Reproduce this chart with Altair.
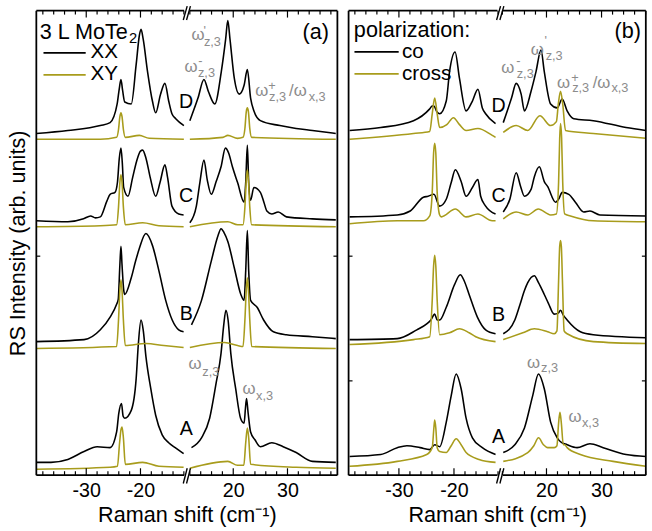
import altair as alt
import pandas as pd

FONT = "Liberation Sans"
OLIVE = "#a89c1c"
GRAY = "#8c8c8c"

# ---------------------------------------------------------------------------
# Spectra: (Raman shift in cm^-1, intensity above the trace offset, arb. units)
# Panel (a): 3 L MoTe2, XX (parallel) and XY (crossed) configurations
# ---------------------------------------------------------------------------
a_A_xx = [(-39.2, 0.07), (-36.5, 0.07), (-33.4, 0.10), (-30.4, 0.18), (-28.0, 0.23), (-25.6, 0.22),
          (-24.4, 0.38), (-24.0, 0.57), (-23.5, 0.67), (-23.2, 0.54), (-22.9, 0.52), (-21.7, 0.60),
          (-20.8, 0.92), (-20.4, 1.27), (-19.9, 1.52), (-19.5, 1.42), (-19.0, 1.15), (-18.1, 0.82),
          (-17.2, 0.55), (-16.0, 0.35), (-14.8, 0.27), (-13.6, 0.22), (-12.05, 0.16),
          (12.3, 0.22), (14.15, 0.32), (15.65, 0.52), (16.85, 0.88), (17.75, 1.18), (18.25, 1.47),
          (18.65, 1.62), (19.05, 1.52), (19.55, 1.18), (20.45, 0.82), (21.35, 0.52), (22.0, 0.47),
          (22.25, 0.62), (22.45, 0.72), (22.75, 0.57), (23.2, 0.38), (24.0, 0.30), (25.0, 0.23),
          (27.1, 0.27), (29.2, 0.23), (31.6, 0.17), (34.6, 0.08), (38.9, 0.07)]
a_A_xy = [(-39.2, 0.0), (-25.6, 0.02), (-24.25, 0.03), (-23.85, 0.27), (-23.6, 0.40), (-23.4, 0.43),
          (-23.15, 0.32), (-22.8, 0.05), (-19.6, 0.07), (-16.6, 0.03), (-12.05, 0.02),
          (12.0, 0.01), (19.0, 0.08), (20.8, 0.04), (21.95, 0.04), (22.3, 0.27), (22.6, 0.42),
          (22.85, 0.32), (23.2, 0.05), (31.6, 0.02), (38.9, 0.01)]
a_B_xx = [(-39.2, 0.07), (-30.4, 0.09), (-27.4, 0.19), (-25.6, 0.32), (-24.4, 0.45), (-24.1, 0.50),
          (-23.8, 0.85), (-23.6, 1.04), (-23.4, 0.85), (-23.1, 0.60), (-22.9, 0.55), (-21.7, 0.72),
          (-20.9, 0.89), (-20.2, 1.02), (-19.0, 1.17), (-17.8, 1.05), (-16.6, 0.79), (-15.35, 0.49),
          (-14.15, 0.29), (-12.95, 0.19), (-12.05, 0.17),
          (12.3, 0.24), (14.15, 0.49), (15.95, 0.89), (17.2, 1.15), (17.75, 1.22), (18.3, 1.18),
          (19.0, 1.09), (20.2, 0.82), (21.4, 0.55), (22.0, 0.49), (22.3, 0.79), (22.6, 1.20),
          (22.85, 0.79), (23.2, 0.49), (24.4, 0.42), (25.6, 0.29), (27.4, 0.17), (29.8, 0.14),
          (34.6, 0.12), (38.9, 0.10)]
a_B_xy = [(-39.2, 0.0), (-24.4, 0.02), (-24.05, 0.29), (-23.8, 0.59), (-23.6, 0.70), (-23.4, 0.59),
          (-23.15, 0.29), (-22.8, 0.03), (-19.0, 0.05), (-15.7, 0.03), (-12.05, 0.01),
          (12.0, 0.01), (18.4, 0.06), (20.8, 0.03), (21.8, 0.02), (22.15, 0.29), (22.4, 0.59),
          (22.6, 0.72), (22.8, 0.59), (23.05, 0.29), (23.4, 0.02), (38.9, 0.0)]
a_C_xx = [(-39.2, 0.06), (-33.4, 0.05), (-30.5, 0.08), (-29.2, 0.11), (-28.3, 0.09), (-27.4, 0.10),
          (-26.2, 0.26), (-25.6, 0.33), (-24.7, 0.35), (-24.25, 0.45), (-23.9, 0.70), (-23.6, 0.80),
          (-23.35, 0.65), (-23.1, 0.40), (-22.3, 0.31), (-21.45, 0.50), (-20.7, 0.67), (-20.0, 0.77),
          (-19.6, 0.78), (-19.0, 0.70), (-18.2, 0.50), (-17.2, 0.31), (-16.4, 0.45), (-15.5, 0.63),
          (-15.0, 0.50), (-14.2, 0.21), (-12.95, 0.13), (-12.05, 0.12),
          (12.0, 0.04), (13.2, 0.21), (13.85, 0.45), (14.6, 0.68), (15.2, 0.48), (15.95, 0.33),
          (16.85, 0.46), (17.75, 0.61), (18.55, 0.80), (19.15, 0.75), (19.85, 0.61), (20.8, 0.45),
          (22.0, 0.25), (22.3, 0.45), (22.6, 0.83), (22.85, 0.45), (23.2, 0.27), (23.8, 0.40),
          (25.0, 0.35), (25.65, 0.25), (26.2, 0.16), (27.1, 0.13), (28.3, 0.15), (29.8, 0.10),
          (34.6, 0.08), (38.9, 0.07)]
a_C_xy = [(-39.2, 0.0), (-27.4, 0.01), (-24.4, 0.02), (-24.05, 0.20), (-23.8, 0.45), (-23.6, 0.53),
          (-23.4, 0.45), (-23.15, 0.20), (-22.8, 0.02), (-19.6, 0.04), (-16.6, 0.01), (-12.05, 0.0),
          (12.0, 0.0), (19.0, 0.05), (20.8, 0.02), (21.8, 0.02), (22.15, 0.20), (22.4, 0.47),
          (22.6, 0.58), (22.8, 0.47), (23.05, 0.20), (23.4, 0.02), (38.9, 0.0)]
a_D_xx = [(-39.2, 0.06), (-33.4, 0.09), (-27.4, 0.14), (-25.6, 0.17), (-24.3, 0.36), (-23.9, 0.52),
          (-23.6, 0.61), (-23.3, 0.50), (-22.9, 0.38), (-21.7, 0.36), (-20.8, 0.76), (-20.2, 1.06),
          (-19.9, 1.12), (-19.5, 1.02), (-18.7, 0.69), (-17.8, 0.39), (-17.2, 0.27), (-16.3, 0.46),
          (-15.5, 0.57), (-14.8, 0.39), (-14.2, 0.26), (-13.5, 0.21), (-12.0, 0.14),
          (12.0, 0.19), (13.5, 0.42), (14.6, 0.61), (15.4, 0.49), (16.6, 0.36), (17.8, 0.69),
          (18.6, 1.02), (19.0, 1.21), (19.4, 1.02), (20.2, 0.62), (21.1, 0.46), (22.0, 0.55),
          (22.6, 0.71), (23.2, 0.42), (23.8, 0.29), (25.0, 0.19), (28.6, 0.14), (31.6, 0.11),
          (34.6, 0.09), (38.9, 0.06)]
a_D_xy = [(-39.2, 0.0), (-27.4, 0.0), (-24.4, 0.02), (-24.05, 0.10), (-23.8, 0.23), (-23.6, 0.27),
          (-23.4, 0.23), (-23.15, 0.10), (-22.8, 0.02), (-20.2, 0.04), (-18.4, 0.01), (-12.0, 0.0),
          (12.0, 0.0), (18.1, 0.02), (19.0, 0.04), (20.8, 0.01), (21.8, 0.02), (22.15, 0.11),
          (22.4, 0.28), (22.6, 0.32), (22.8, 0.28), (23.05, 0.11), (23.4, 0.02), (38.9, 0.0)]

# Panel (b): co- and cross-polarized spectra
b_A_co = [(-38.96, 0.10), (-33.3, 0.12), (-30.3, 0.19), (-28.55, 0.21), (-26.15, 0.19), (-24.4, 0.17),
          (-23.5, 0.22), (-22.6, 0.20), (-21.4, 0.45), (-20.5, 0.72), (-19.6, 0.94), (-18.7, 0.79),
          (-17.8, 0.49), (-16.65, 0.29), (-14.85, 0.19), (-12.45, 0.12),
          (12.15, 0.14), (14.25, 0.22), (16.0, 0.39), (17.5, 0.72), (18.55, 0.94), (19.6, 0.79),
          (20.75, 0.45), (21.95, 0.29), (22.55, 0.25), (23.75, 0.22), (25.55, 0.19), (27.9, 0.23),
          (30.3, 0.19), (34.45, 0.12), (38.04, 0.10)]
b_A_cross = [(-38.96, 0.0), (-30.3, 0.05), (-24.95, 0.12), (-23.95, 0.19), (-23.65, 0.39), (-23.5, 0.47),
             (-23.3, 0.39), (-23.05, 0.19), (-22.6, 0.15), (-21.4, 0.14), (-20.5, 0.21), (-19.6, 0.28),
             (-18.7, 0.22), (-17.8, 0.14), (-15.45, 0.07), (-12.45, 0.04),
             (12.15, 0.05), (16.6, 0.14), (17.7, 0.21), (18.55, 0.29), (19.45, 0.22), (20.2, 0.19),
             (21.4, 0.19), (21.9, 0.21), (22.2, 0.44), (22.45, 0.55), (22.7, 0.44), (23.05, 0.22),
             (23.3, 0.22), (23.75, 0.19), (26.15, 0.12), (32.1, 0.05), (38.04, 0.0)]
b_B_co = [(-38.96, 0.05), (-30.3, 0.06), (-26.75, 0.15), (-24.95, 0.21), (-24.2, 0.25), (-23.5, 0.31),
          (-23.05, 0.25), (-22.6, 0.25), (-21.4, 0.38), (-19.9, 0.61), (-18.85, 0.71), (-18.15, 0.65),
          (-17.25, 0.51), (-15.75, 0.28), (-14.25, 0.15), (-12.45, 0.11),
          (12.15, 0.11), (14.25, 0.25), (15.15, 0.40), (16.0, 0.55), (16.6, 0.63), (17.8, 0.70),
          (18.55, 0.63), (19.6, 0.51), (20.35, 0.42), (21.4, 0.31), (22.15, 0.32), (22.55, 0.35),
          (23.05, 0.30), (23.75, 0.25), (26.15, 0.13), (28.5, 0.10), (38.04, 0.07)]
b_B_cross = [(-38.96, 0.0), (-27.35, 0.05), (-24.4, 0.08), (-23.95, 0.45), (-23.7, 0.80), (-23.5, 0.91),
             (-23.3, 0.80), (-23.05, 0.45), (-22.6, 0.10), (-20.8, 0.12), (-19.0, 0.16), (-17.25, 0.12),
             (-16.05, 0.08), (-12.45, 0.03),
             (12.15, 0.05), (15.7, 0.12), (17.8, 0.16), (20.2, 0.13), (21.4, 0.11), (21.9, 0.14),
             (22.2, 0.65), (22.4, 1.00), (22.55, 1.06), (22.7, 1.00), (22.9, 0.65), (23.2, 0.14),
             (23.75, 0.11), (28.5, 0.03), (38.04, 0.01)]
b_C_co = [(-38.96, 0.07), (-30.3, 0.09), (-27.95, 0.13), (-25.55, 0.27), (-24.7, 0.28), (-23.65, 0.30),
          (-22.6, 0.18), (-21.4, 0.25), (-20.5, 0.42), (-19.75, 0.55), (-18.7, 0.43), (-17.8, 0.28),
          (-16.65, 0.37), (-15.65, 0.45), (-15.15, 0.28), (-14.25, 0.18), (-12.45, 0.10),
          (12.15, 0.12), (13.35, 0.25), (14.5, 0.52), (15.3, 0.38), (16.0, 0.28), (17.2, 0.35),
          (17.8, 0.48), (18.7, 0.58), (19.6, 0.43), (20.2, 0.38), (21.65, 0.22), (22.3, 0.26),
          (22.85, 0.32), (24.05, 0.30), (25.25, 0.22), (26.75, 0.12), (27.9, 0.13), (29.7, 0.09),
          (38.04, 0.08)]
b_C_cross = [(-38.96, 0.0), (-30.3, 0.03), (-25.55, 0.03), (-24.4, 0.08), (-23.95, 0.32), (-23.7, 0.72),
             (-23.5, 0.82), (-23.3, 0.72), (-23.05, 0.32), (-22.6, 0.09), (-22.3, 0.07), (-19.75, 0.15),
             (-17.8, 0.07), (-15.65, 0.10), (-13.05, 0.03), (-12.45, 0.03),
             (12.15, 0.05), (14.5, 0.12), (16.6, 0.09), (18.5, 0.15), (20.75, 0.09), (21.8, 0.10),
             (22.2, 0.42), (22.4, 0.87), (22.55, 1.02), (22.75, 0.87), (22.95, 0.42), (23.3, 0.10),
             (24.35, 0.08), (28.5, 0.03), (38.04, 0.02)]
b_D_co = [(-38.96, 0.09), (-33.3, 0.12), (-27.35, 0.19), (-24.4, 0.31), (-23.95, 0.34), (-23.65, 0.34),
          (-23.1, 0.28), (-22.6, 0.26), (-21.4, 0.39), (-20.8, 0.69), (-19.8, 0.89), (-19.0, 0.62),
          (-17.8, 0.29), (-16.65, 0.39), (-15.65, 0.51), (-14.85, 0.32), (-14.25, 0.26), (-12.45, 0.16),
          (12.15, 0.17), (13.65, 0.42), (14.5, 0.57), (15.4, 0.46), (16.0, 0.29), (17.2, 0.49),
          (18.1, 0.69), (19.0, 0.91), (19.6, 0.69), (20.75, 0.36), (21.95, 0.32), (22.85, 0.41),
          (23.75, 0.29), (24.95, 0.21), (28.5, 0.19), (34.45, 0.12), (38.04, 0.09)]
b_D_cross = [(-38.96, 0.0), (-27.35, 0.06), (-24.4, 0.08), (-23.95, 0.26), (-23.5, 0.42), (-23.05, 0.26),
             (-22.6, 0.12), (-21.3, 0.15), (-20.1, 0.22), (-19.0, 0.15), (-17.8, 0.09), (-15.65, 0.11),
             (-13.05, 0.04), (-12.45, 0.02),
             (12.15, 0.07), (14.5, 0.14), (16.6, 0.09), (18.8, 0.24), (20.75, 0.14), (21.8, 0.18),
             (22.15, 0.36), (22.55, 0.49), (22.95, 0.36), (23.45, 0.09), (28.5, 0.06), (38.04, 0.01)]

# Vertical offsets of the stacked spectra A..D
spectra = ["A", "B", "C", "D"]
a_offsets = [0.06, 1.29, 2.53, 3.42]
b_offsets = [0.09, 1.33, 2.56, 3.42]

# Broken-axis geometry: the |shift| < gap/2 region is cut out
a_gap, a_lo, a_hi = 22.9, -39.2, 39.2
b_gap, b_lo, b_hi = 23.2, -39.14, 38.04
a_yticks = [2.23]
b_yticks = [0.96, 2.23]

# Annotations (Raman shift, intensity)
a_heading = [("3 L MoTe", -38.55, 4.444)]
a_keys = [("XX", -29.2, 4.244), ("XY", -29.2, 4.02)]
a_heading_sub = [("2", -22.1, 4.405)]
a_corner = [("(a)", 37.64, 4.444)]
a_legend = [("parallel", -37.88, -30.1, 4.30), ("crossed", -37.88, -30.1, 4.077)]
a_labels = [("A", -11.57, 0.404), ("B", -11.57, 1.584), ("C", -11.57, 2.777), ("D", -11.57, 3.744)]
a_greek = [("ω", 12.3, 4.427), ("ω", -11.9, 4.11), ("ω", 24.05, 3.86), ("/ω", 30.3, 3.86),
           ("ω", 11.75, 1.077), ("ω", 21.7, 0.827)]
a_greek_sup = [("'", 14.5, 4.487), ("-", 13.55, 4.177), ("+", 26.45, 3.927)]
a_greek_sub = [("z,3", 14.6, 4.374), ("z,3", 13.5, 4.05), ("z,3", 26.6, 3.81), ("x,3", 33.9, 3.81),
               ("z,3", 14.3, 1.007), ("x,3", 24.2, 0.767)]

b_heading = [("polarization:", -38.18, 4.46)]
b_keys = [("co", -29.44, 4.244), ("cross", -29.44, 4.027)]
b_heading_sub = []
b_corner = [("(b)", 37.15, 4.447)]
b_legend = [("parallel", -38.07, -30.04, 4.31), ("crossed", -38.07, -30.04, 4.087)]
b_labels = [("A", -11.9, 0.327), ("B", -11.9, 1.57), ("C", -11.9, 2.777), ("D", -11.9, 3.694)]
b_greek = [("ω", 17.15, 4.277), ("ω", 11.8, 4.094), ("ω", 21.9, 3.944), ("/ω", 28.4, 3.944),
           ("ω", 16.45, 1.094), ("ω", 24.0, 0.544)]
b_greek_sup = [("'", 19.65, 4.377), ("-", 14.5, 4.177), ("+", 24.5, 4.007)]
b_greek_sub = [("z,3", 19.85, 4.227), ("z,3", 14.6, 4.044), ("z,3", 24.67, 3.907), ("x,3", 31.8, 3.907),
               ("z,3", 19.02, 1.05), ("x,3", 26.45, 0.494)]

H = 473
Y_TOP = 4.73


def disp(shift, gap):
    """Map a Raman shift onto the continuous broken-axis coordinate."""
    return shift - gap if shift > 0 else shift


def text_frame(items, gap):
    return pd.DataFrame([{"t": t, "xd": disp(x, gap), "yd": y} for t, x, y in items],
                        columns=["t", "xd", "yd"])


def build_panel(traces, offsets, gap, lo, hi, width, yticks, heading, keys, heading_sub, corner,
                legend, labels, greek, greek_sup, greek_sub, y_title):
    brk = -gap / 2
    xs = alt.Scale(domain=[lo, hi - gap], nice=False, zero=False)
    ys = alt.Scale(domain=[0, Y_TOP], nice=False, zero=False)

    rows = []
    for spec, config, pts in traces:
        off = offsets[spectra.index(spec)]
        for s, v in pts:
            side = "L" if s < 0 else "R"
            rows.append({"trace": f"{spec}-{config}-{side}", "config": config,
                         "shift": s, "xd": disp(s, gap), "yd": v + off})
    df = pd.DataFrame(rows)

    label_expr = (f"datum.value < {brk} ? '-' + round(abs(datum.value)) "
                  f": '' + round(datum.value + {gap})")
    xaxis = alt.Axis(values=[-30, -20, 20 - gap, 30 - gap], labelExpr=label_expr,
                     title="Raman shift (cm⁻¹)", domain=False, ticks=False, tickSize=0,
                     grid=False, labelPadding=6, labelFontSize=20, titleFontSize=22,
                     titlePadding=4, labelFlush=False)
    if y_title:
        yaxis = alt.Axis(title="RS Intensity (arb. units)", labels=False, ticks=False, tickSize=0,
                         domain=False, grid=False, titleFontSize=22, titlePadding=7)
    else:
        yaxis = None

    # every layer carries the same axis definition so the merged axis keeps it
    X = lambda f: alt.X(f, type="quantitative", scale=xs, axis=xaxis)
    Y = lambda f: alt.Y(f, type="quantitative", scale=ys, axis=yaxis)

    co = alt.Chart(df).transform_filter(alt.datum.config == "parallel").mark_line(
        color="black", strokeWidth=1.6, interpolate="monotone").encode(
        x=X("xd"), y=Y("yd"), detail="trace:N", order="shift:Q")
    cross = alt.Chart(df).transform_filter(alt.datum.config == "crossed").mark_line(
        color=OLIVE, strokeWidth=1.6, interpolate="monotone").encode(
        x=X("xd"), y=Y("yd"), detail="trace:N", order="shift:Q")

    # frame with a cut at the axis break
    segs = pd.DataFrame({"x0": [lo, brk + 0.5], "x1": [brk - 0.5, hi - gap]})
    one = pd.DataFrame({"k": [0]})
    frame_style = dict(color="black", strokeWidth=1.8)
    bottom = alt.Chart(segs).mark_rule(**frame_style).encode(x=X("x0"), x2="x1", y=alt.value(H))
    top = alt.Chart(segs).mark_rule(**frame_style).encode(x=X("x0"), x2="x1", y=alt.value(0))
    left = alt.Chart(one).mark_rule(**frame_style).encode(x=alt.value(0), y=alt.value(0), y2=alt.value(H))
    right = alt.Chart(one).mark_rule(**frame_style).encode(x=alt.value(width), y=alt.value(0), y2=alt.value(H))

    slashes = pd.DataFrame({"x0": [brk - 0.66, brk - 0.06], "x1": [brk + 0.06, brk + 0.66]})
    sl_bottom = alt.Chart(slashes).mark_rule(color="black", strokeWidth=1.4).encode(
        x=X("x0"), x2="x1", y=alt.value(H + 8.5), y2=alt.value(H - 7))
    sl_top = alt.Chart(slashes).mark_rule(color="black", strokeWidth=1.4).encode(
        x=X("x0"), x2="x1", y=alt.value(9.5), y2=alt.value(-4.7))

    # inward ticks
    majors = [-30, -20, 20, 30]
    minors = [v for v in list(range(-38, -11, 2)) + list(range(12, 39, 2))
              if v not in majors and lo <= v <= hi]
    tmaj = pd.DataFrame({"xd": [disp(v, gap) for v in majors]})
    tmin = pd.DataFrame({"xd": [disp(v, gap) for v in minors]})
    tick_style = dict(color="black", strokeWidth=1.2)
    ticks = [
        alt.Chart(tmaj).mark_rule(**tick_style).encode(x=X("xd"), y=alt.value(H), y2=alt.value(H - 7)),
        alt.Chart(tmin).mark_rule(**tick_style).encode(x=X("xd"), y=alt.value(H), y2=alt.value(H - 4)),
        alt.Chart(tmaj).mark_rule(**tick_style).encode(x=X("xd"), y=alt.value(0), y2=alt.value(7)),
        alt.Chart(tmin).mark_rule(**tick_style).encode(x=X("xd"), y=alt.value(0), y2=alt.value(4)),
    ]
    yt = pd.DataFrame({"yd": yticks})
    ticks += [
        alt.Chart(yt).mark_rule(**tick_style).encode(y=Y("yd"), x=alt.value(0), x2=alt.value(4)),
        alt.Chart(yt).mark_rule(**tick_style).encode(y=Y("yd"), x=alt.value(width - 4), x2=alt.value(width)),
    ]

    # legend keys
    leg = pd.DataFrame([{"config": c, "x0": disp(a, gap), "x1": disp(b, gap), "yd": y}
                        for c, a, b, y in legend])
    leg_layer = alt.Chart(leg).mark_rule(strokeWidth=1.8).encode(
        x=X("x0"), x2="x1", y=Y("yd"),
        color=alt.Color("config:N", scale=alt.Scale(domain=["parallel", "crossed"],
                                                    range=["black", OLIVE]), legend=None))

    def txt(items, size, color, align):
        return alt.Chart(text_frame(items, gap)).mark_text(
            font=FONT, fontSize=size, color=color, align=align, baseline="alphabetic").encode(
            x=X("xd"), y=Y("yd"), text="t:N")

    layers = [co, cross, bottom, top, left, right, sl_bottom, sl_top] + ticks + [leg_layer]
    layers.append(txt(heading, 22, "black", "left"))
    layers.append(txt(keys, 21, "black", "left"))
    if heading_sub:
        layers.append(txt(heading_sub, 15, "black", "left"))
    layers.append(txt(corner, 22, "black", "right"))
    layers.append(txt(labels, 20, "black", "center"))
    layers.append(txt(greek, 17, GRAY, "left"))
    layers.append(txt(greek_sup, 13, GRAY, "left"))
    layers.append(txt(greek_sub, 13, GRAY, "left"))

    return alt.layer(*layers).properties(width=width, height=H)


panel_a = build_panel(
    [("A", "parallel", a_A_xx), ("A", "crossed", a_A_xy), ("B", "parallel", a_B_xx),
     ("B", "crossed", a_B_xy), ("C", "parallel", a_C_xx), ("C", "crossed", a_C_xy),
     ("D", "parallel", a_D_xx), ("D", "crossed", a_D_xy)],
    a_offsets, a_gap, a_lo, a_hi, 306.6, a_yticks, a_heading, a_keys, a_heading_sub, a_corner,
    a_legend, a_labels, a_greek, a_greek_sup, a_greek_sub, True)

panel_b = build_panel(
    [("A", "parallel", b_A_co), ("A", "crossed", b_A_cross), ("B", "parallel", b_B_co),
     ("B", "crossed", b_B_cross), ("C", "parallel", b_C_co), ("C", "crossed", b_C_cross),
     ("D", "parallel", b_D_co), ("D", "crossed", b_D_cross)],
    b_offsets, b_gap, b_lo, b_hi, 302.7, b_yticks, b_heading, b_keys, b_heading_sub, b_corner,
    b_legend, b_labels, b_greek, b_greek_sup, b_greek_sub, False)

chart = alt.hconcat(panel_a, panel_b, spacing=6).properties(
    padding={"left": 6, "top": 0, "right": 2, "bottom": 0}
).configure_view(stroke="transparent").configure_axis(
    labelFont=FONT, titleFont=FONT, labelColor="black", titleColor="black",
    titleFontWeight="normal"
)

chart.save("out.html", embed_options={"renderer": "svg", "actions": False})
